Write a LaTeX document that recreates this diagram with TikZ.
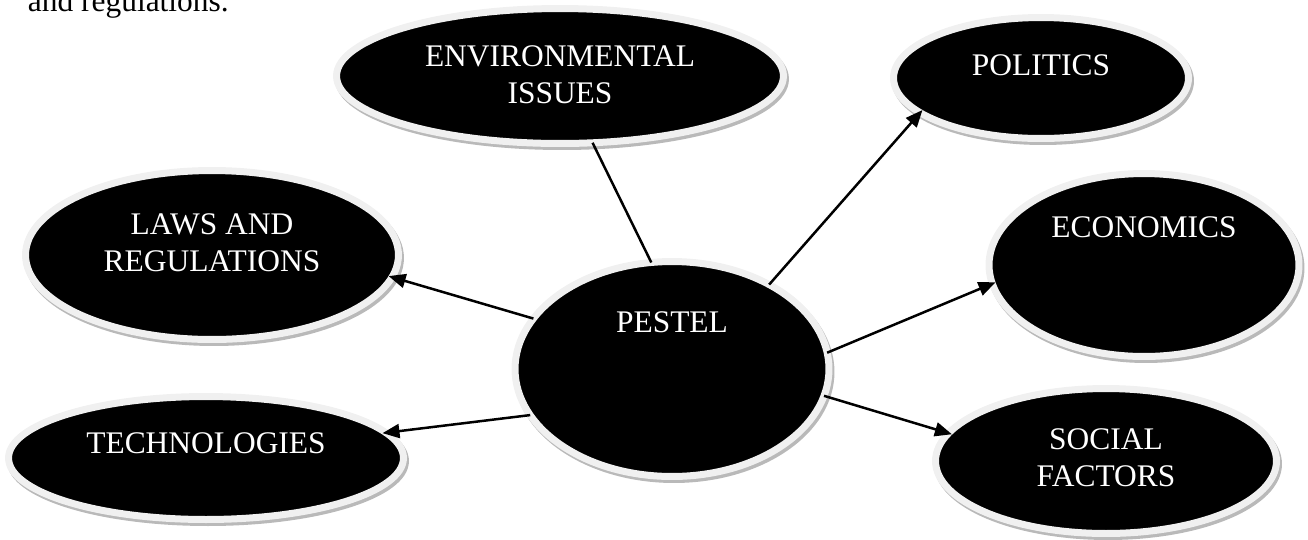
\documentclass[tikz,border=0pt]{standalone}
\usepackage{fontspec}
\setmainfont{Liberation Serif}
\usepackage{tikz}
\usetikzlibrary{arrows.meta,shapes.geometric,shadows}

\newcommand{\lift}[2]{\raisebox{\dimexpr#1-0.5\height+0.5\depth\relax}[0pt][0pt]{\begin{tabular}{@{}c@{}}#2\end{tabular}}}

\begin{document}
\begin{tikzpicture}[x=0.02cm, y=-0.02cm, outer sep=0pt,
        font=\fontsize{17.9}{21}\selectfont,
        bubble/.style={ellipse, fill=black, draw=gray!12, line width=0.14cm, text=white, inner sep=0pt,
            drop shadow={shadow xshift=0.04cm, shadow yshift=-0.06cm, fill=gray!55, draw=gray!55, line width=0.14cm, opacity=1}},
        link/.style={line width=0.05cm},
        arrow/.style={link, -{Triangle[length=0.34cm, width=0.28cm]}, shorten >=-0.07cm}]
    \useasboundingbox (0,0) rectangle (1308,539);
    \node [anchor=base west] (note) at (22,11) {and regulations.};
    % centre and the six factors
    \node [bubble, minimum width=6.28cm, minimum height=4.3cm] (pestel) at (672,369) {\lift{0.88cm}{PESTEL}};
    \node [bubble, minimum width=8.94cm, minimum height=2.7cm] (env) at (560,76) {\lift{-0.04cm}{ENVIRONMENTAL\\ISSUES}};
    \node [bubble, minimum width=5.9cm, minimum height=2.42cm] (pol) at (1041,78) {\lift{0.2cm}{POLITICS}};
    \node [bubble, minimum width=7.46cm, minimum height=3.38cm] (laws) at (212,255) {\lift{0.19cm}{LAWS AND\\REGULATIONS}};
    \node [bubble, minimum width=6.2cm, minimum height=3.66cm] (econ) at (1144,265) {\lift{0.7cm}{ECONOMICS}};
    \node [bubble, minimum width=7.9cm, minimum height=2.46cm] (tech) at (206,458) {\lift{0.24cm}{TECHNOLOGIES}};
    \node [bubble, minimum width=6.82cm, minimum height=2.9cm] (social) at (1106,461) {\lift{0cm}{SOCIAL\\FACTORS}};
    % connectors
    \draw [link] (pestel.101) -- (env.-64);
    \draw [arrow] (pestel.41) -- (pol.196);
    \draw [arrow] (pestel.160) -- (laws.-7);
    \draw [arrow] (pestel.6) -- (econ.187);
    \draw [arrow] (pestel.198) -- (tech.8);
    \draw [arrow] (pestel.-10) -- (social.170);
\end{tikzpicture}
\end{document}
